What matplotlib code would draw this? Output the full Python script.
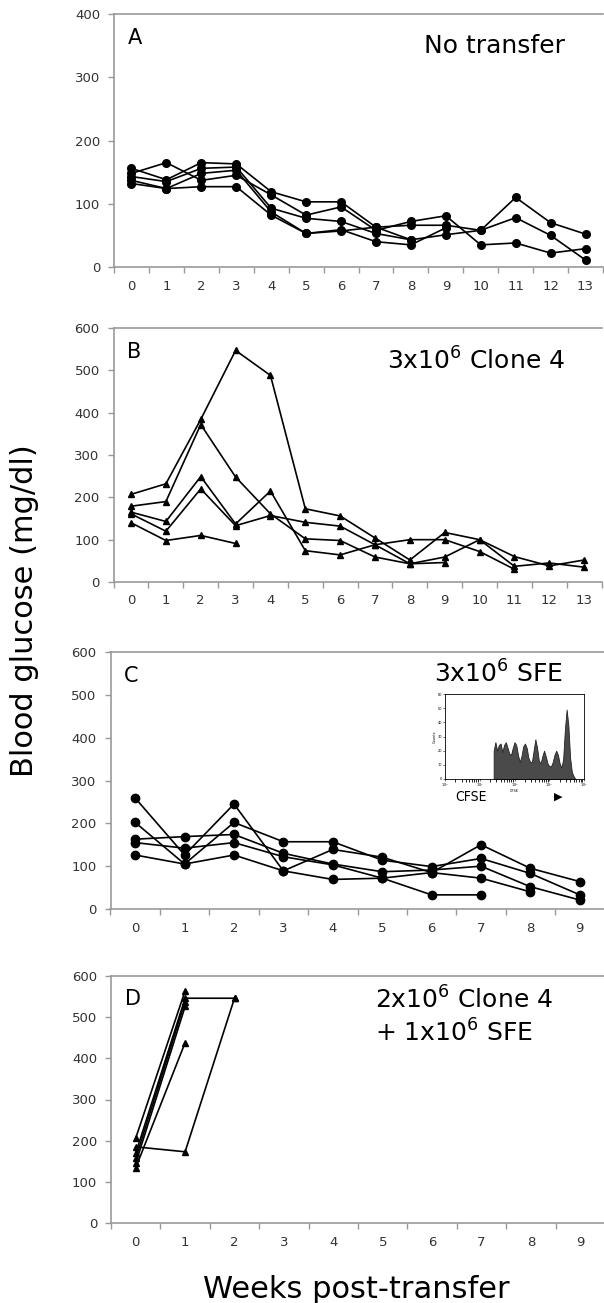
import numpy as np
import matplotlib.pyplot as plt

# blood glucose (mg/dl) per mouse; index = week
a_mice = [
    [148, 165, 137, 145, 114, 82, 95, 58, 72, 81, 35, 38, 22, 29],
    [156, 138, 165, 163, 119, 103, 103, 63, 66, 66, 58, 110, 70, 52],
    [143, 135, 156, 158, 93, 77, 72, 53, 43, 51, 58, 78, 50, 11],
    [137, 124, 148, 153, 87, 53, 59, 40, 35, 62],
    [132, 124, 127, 127, 82, 53, 57, 63, 43],
]
b_mice = [
    [207, 232, 384, 547, 488, 173, 156, 104, 52, 117, 100, 37, 45, 35],
    [179, 190, 372, 248, 161, 102, 98, 59, 43, 59, 100, 60, 38, 52],
    [165, 143, 249, 137, 215, 74, 64, 88, 100, 100, 72, 30],
    [161, 120, 220, 133, 157, 141, 132, 88, 43, 46],
    [140, 98, 110, 91],
]
c_mice = [
    [259, 126, 245, 89, 139, 121, 85, 150, 95, 64],
    [202, 105, 202, 157, 157, 114, 99, 118, 83, 33],
    [163, 169, 174, 130, 105, 87, 91, 100, 52, 21],
    [155, 142, 155, 122, 103, 72, 85, 72, 40],
    [126, 105, 126, 89, 69, 72, 33, 33],
]
d_mice = [
    [206, 564],
    [169, 546, 546],
    [157, 538],
    [145, 526],
    [134, 438],
    [185, 173, 546],
]

# CFSE histogram for the inset (log10 intensity, counts)
cfse_log = [1.40, 1.45, 1.50, 1.55, 1.60, 1.65, 1.70, 1.75, 1.80, 1.85, 1.90, 1.95,
            2.00, 2.05, 2.10, 2.15, 2.20, 2.25, 2.30, 2.35, 2.40, 2.45, 2.50, 2.55,
            2.60, 2.65, 2.70, 2.75, 2.80, 2.85, 2.90, 2.95, 3.00, 3.05, 3.10, 3.15,
            3.20, 3.25, 3.30, 3.35, 3.40, 3.45, 3.50, 3.55, 3.60, 3.65, 3.70, 3.75]
cfse_counts = [20, 26, 20, 24, 25, 19, 24, 26, 22, 18, 17, 22,
               26, 24, 17, 12, 16, 23, 25, 22, 15, 12, 12, 20,
               28, 22, 13, 11, 16, 20, 16, 11, 9, 9, 12, 17,
               20, 17, 11, 8, 14, 35, 49, 38, 15, 5, 2, 0]

W, H = 604, 1303
fig = plt.figure(figsize=(W / 100, H / 100), dpi=100)


def px_axes(left, top, width, bottom):
    """axes from pixel box of the reference"""
    return fig.add_axes([left / W, 1 - bottom / H, width / W, (bottom - top) / H])


def draw_panel(ax, mice, marker, ms, nweeks, ymax, letter, label, label_xy):
    for m in mice:
        ax.plot(range(len(m)), m, color='black', lw=1.2, marker=marker, ms=ms,
                mfc='black', mec='black', clip_on=False)
    ax.set_xlim(-0.5, nweeks - 0.5)
    ax.set_ylim(0, ymax)
    ax.set_yticks(np.arange(0, ymax + 1, 100))
    ax.set_xticks(range(nweeks))
    ax.set_xticks(np.arange(-0.5, nweeks, 1), minor=True)
    ax.tick_params(axis='x', which='major', length=0, pad=9, labelsize=9.5, labelcolor='#333')
    ax.tick_params(axis='x', which='minor', length=4, color='#999', width=1)
    ax.tick_params(axis='y', length=4, color='#999', width=1, pad=6, labelsize=9.5, labelcolor='#333')
    for side in ['left', 'bottom', 'top']:
        ax.spines[side].set_color('#999')
        ax.spines[side].set_linewidth(1.2)
    ax.spines['right'].set_visible(False)
    ax.text(0.028, 0.905, letter, transform=ax.transAxes, fontsize=15, va='center', ha='left')
    ax.text(label_xy[0], label_xy[1], label, transform=ax.transAxes, fontsize=18,
            va='center', ha='left', linespacing=1.3)


ax_a = px_axes(114, 14, 489, 267)
draw_panel(ax_a, a_mice, 'o', 5.5, 14, 400, 'A', 'No transfer', (0.634, 0.875))

ax_b = px_axes(113.6, 328, 488, 582)
draw_panel(ax_b, b_mice, '^', 4.5, 14, 600, 'B', r'3x10$^{6}$ Clone 4', (0.56, 0.87))

ax_c = px_axes(110.5, 652, 494, 909)
draw_panel(ax_c, c_mice, 'o', 6, 10, 600, 'C', r'3x10$^{6}$ SFE', (0.655, 0.915))

ax_d = px_axes(111, 976, 494, 1223)
draw_panel(ax_d, d_mice, '^', 4.5, 10, 600, 'D', '2x10$^{6}$ Clone 4\n+ 1x10$^{6}$ SFE', (0.534, 0.836))

# CFSE inset in panel C
ax_in = px_axes(445, 694, 139, 779)
ax_in.fill_between([10 ** v for v in cfse_log], cfse_counts, color='#4a4a4a', lw=0.6, ec='#222')
ax_in.set_xscale('log')
ax_in.set_xlim(1, 1e4)
ax_in.set_ylim(0, 60)
ax_in.set_yticks(range(0, 61, 10))
ax_in.tick_params(labelsize=2.5, length=1.5, width=0.4, pad=0.5)
ax_in.set_ylabel('Counts', fontsize=2.5, labelpad=0.5)
ax_in.set_xlabel('CFSE', fontsize=2.5, labelpad=0)
for sp in ax_in.spines.values():
    sp.set_linewidth(0.6)
fig.text(455 / W, 1 - 797 / H, 'CFSE', fontsize=10, va='center', ha='left',
         family=['Liberation Sans Narrow', 'DejaVu Sans'], stretch='condensed')
fig.text(558 / W, 1 - 797 / H, '\u25B6', fontsize=8, va='center', ha='center')

fig.text(25 / W, 1 - 611 / H, 'Blood glucose (mg/dl)', rotation=90, fontsize=22,
         va='center', ha='center')
fig.text(356 / W, 1 - 1289 / H, 'Weeks post-transfer', fontsize=22, va='center', ha='center')

fig.savefig('out.png', dpi=100)
